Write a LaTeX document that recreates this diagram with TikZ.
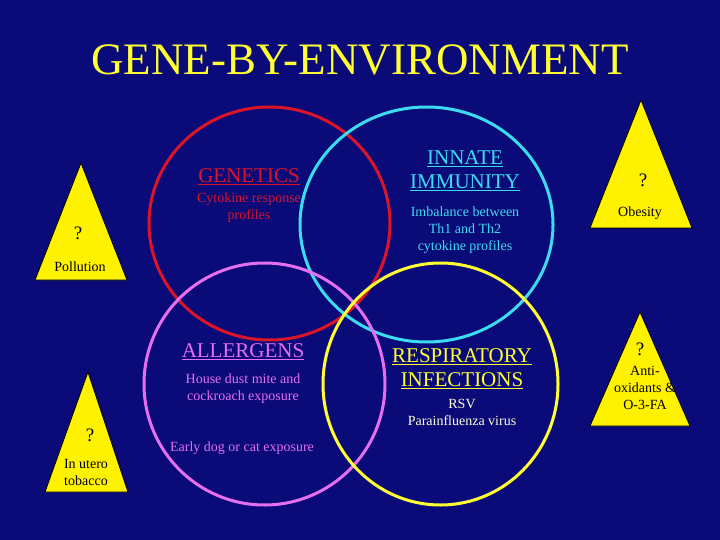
\documentclass[tikz,border=0pt]{standalone}
\usepackage{fontspec}
\setmainfont{Liberation Serif}
\begin{document}
\begin{tikzpicture}[x=1pt,y=-1pt,
  ring/.style={line width=3pt},
  tri/.style={draw=black,fill=yellow,line width=0.8pt},
  head/.style={font=\fontsize{21}{24}\selectfont,align=center},
  sub/.style={font=\fontsize{14}{17}\selectfont,align=center},
  tlab/.style={font=\fontsize{14}{17}\selectfont,align=center,text=black},
  qm/.style={font=\fontsize{19}{21}\selectfont,text=black}]
\definecolor{bg}{RGB}{10,10,120}
\definecolor{cy}{RGB}{60,220,240}
\definecolor{mg}{RGB}{230,110,240}
\definecolor{rd}{RGB}{220,20,40}
\definecolor{yl}{RGB}{255,255,50}
\definecolor{lw}{RGB}{255,255,210}
\fill[bg] (0,0) rectangle (720,540);
\useasboundingbox (0,0) rectangle (720,540);
\node[text=yl,font=\fontsize{45}{48}\selectfont] (title) at (360,60) {GENE-BY-ENVIRONMENT};
\draw[ring,rd] (269.5,223.5) ellipse [x radius=120.5,y radius=116.5];
\draw[ring,cy] (426.5,224.5) ellipse [x radius=126.5,y radius=117.5];
\draw[ring,mg] (264.5,384) ellipse [x radius=120.5,y radius=121];
\draw[ring,yl] (440.5,384) ellipse [x radius=117.5,y radius=121];
% triangles
\draw[tri] (81,163) -- (127,280) -- (35,280) -- cycle;
\draw[tri] (641,100) -- (692,228) -- (590,228) -- cycle;
\draw[tri] (640,312) -- (690,426) -- (590,426) -- cycle;
\draw[tri] (88,372) -- (128,492) -- (45,492) -- cycle;
\node[qm] (q1) at (78,233) {?};
\node[tlab] (t1) at (80,267) {Pollution};
\node[qm] (q2) at (643,180) {?};
\node[tlab] (t2) at (640,213) {Obesity};
\node[qm] (q3) at (640,349) {?};
\node[tlab] (t3) at (645,388) {Anti-\\oxidants \&\\O-3-FA};
\node[qm] (q4) at (90,435) {?};
\node[tlab] (t4) at (86,472) {In utero\\tobacco};
% labels
\node[head,text=rd] (g) at (249,177) {\underline{GENETICS}};
\node[sub,text=rd] (gs) at (249,208) {Cytokine response\\profiles};
\node[head,text=cy] (i) at (465,171) {\underline{INNATE}\\\underline{IMMUNITY}};
\node[sub,text=cy] (is) at (465,230) {Imbalance between\\Th1 and Th2\\cytokine profiles};
\node[head,text=mg] (a) at (243,352) {\underline{ALLERGENS}};
\node[sub,text=mg] (as) at (243,389) {House dust mite and\\cockroach exposure};
\node[sub,text=mg] (as2) at (242,448) {Early dog or cat exposure};
\node[head,text=yl] (r) at (462,369) {\underline{RESPIRATORY}\\\underline{INFECTIONS}};
\node[sub,text=lw] (rs) at (462,412) {RSV\\Parainfluenza virus};
\end{tikzpicture}
\end{document}
